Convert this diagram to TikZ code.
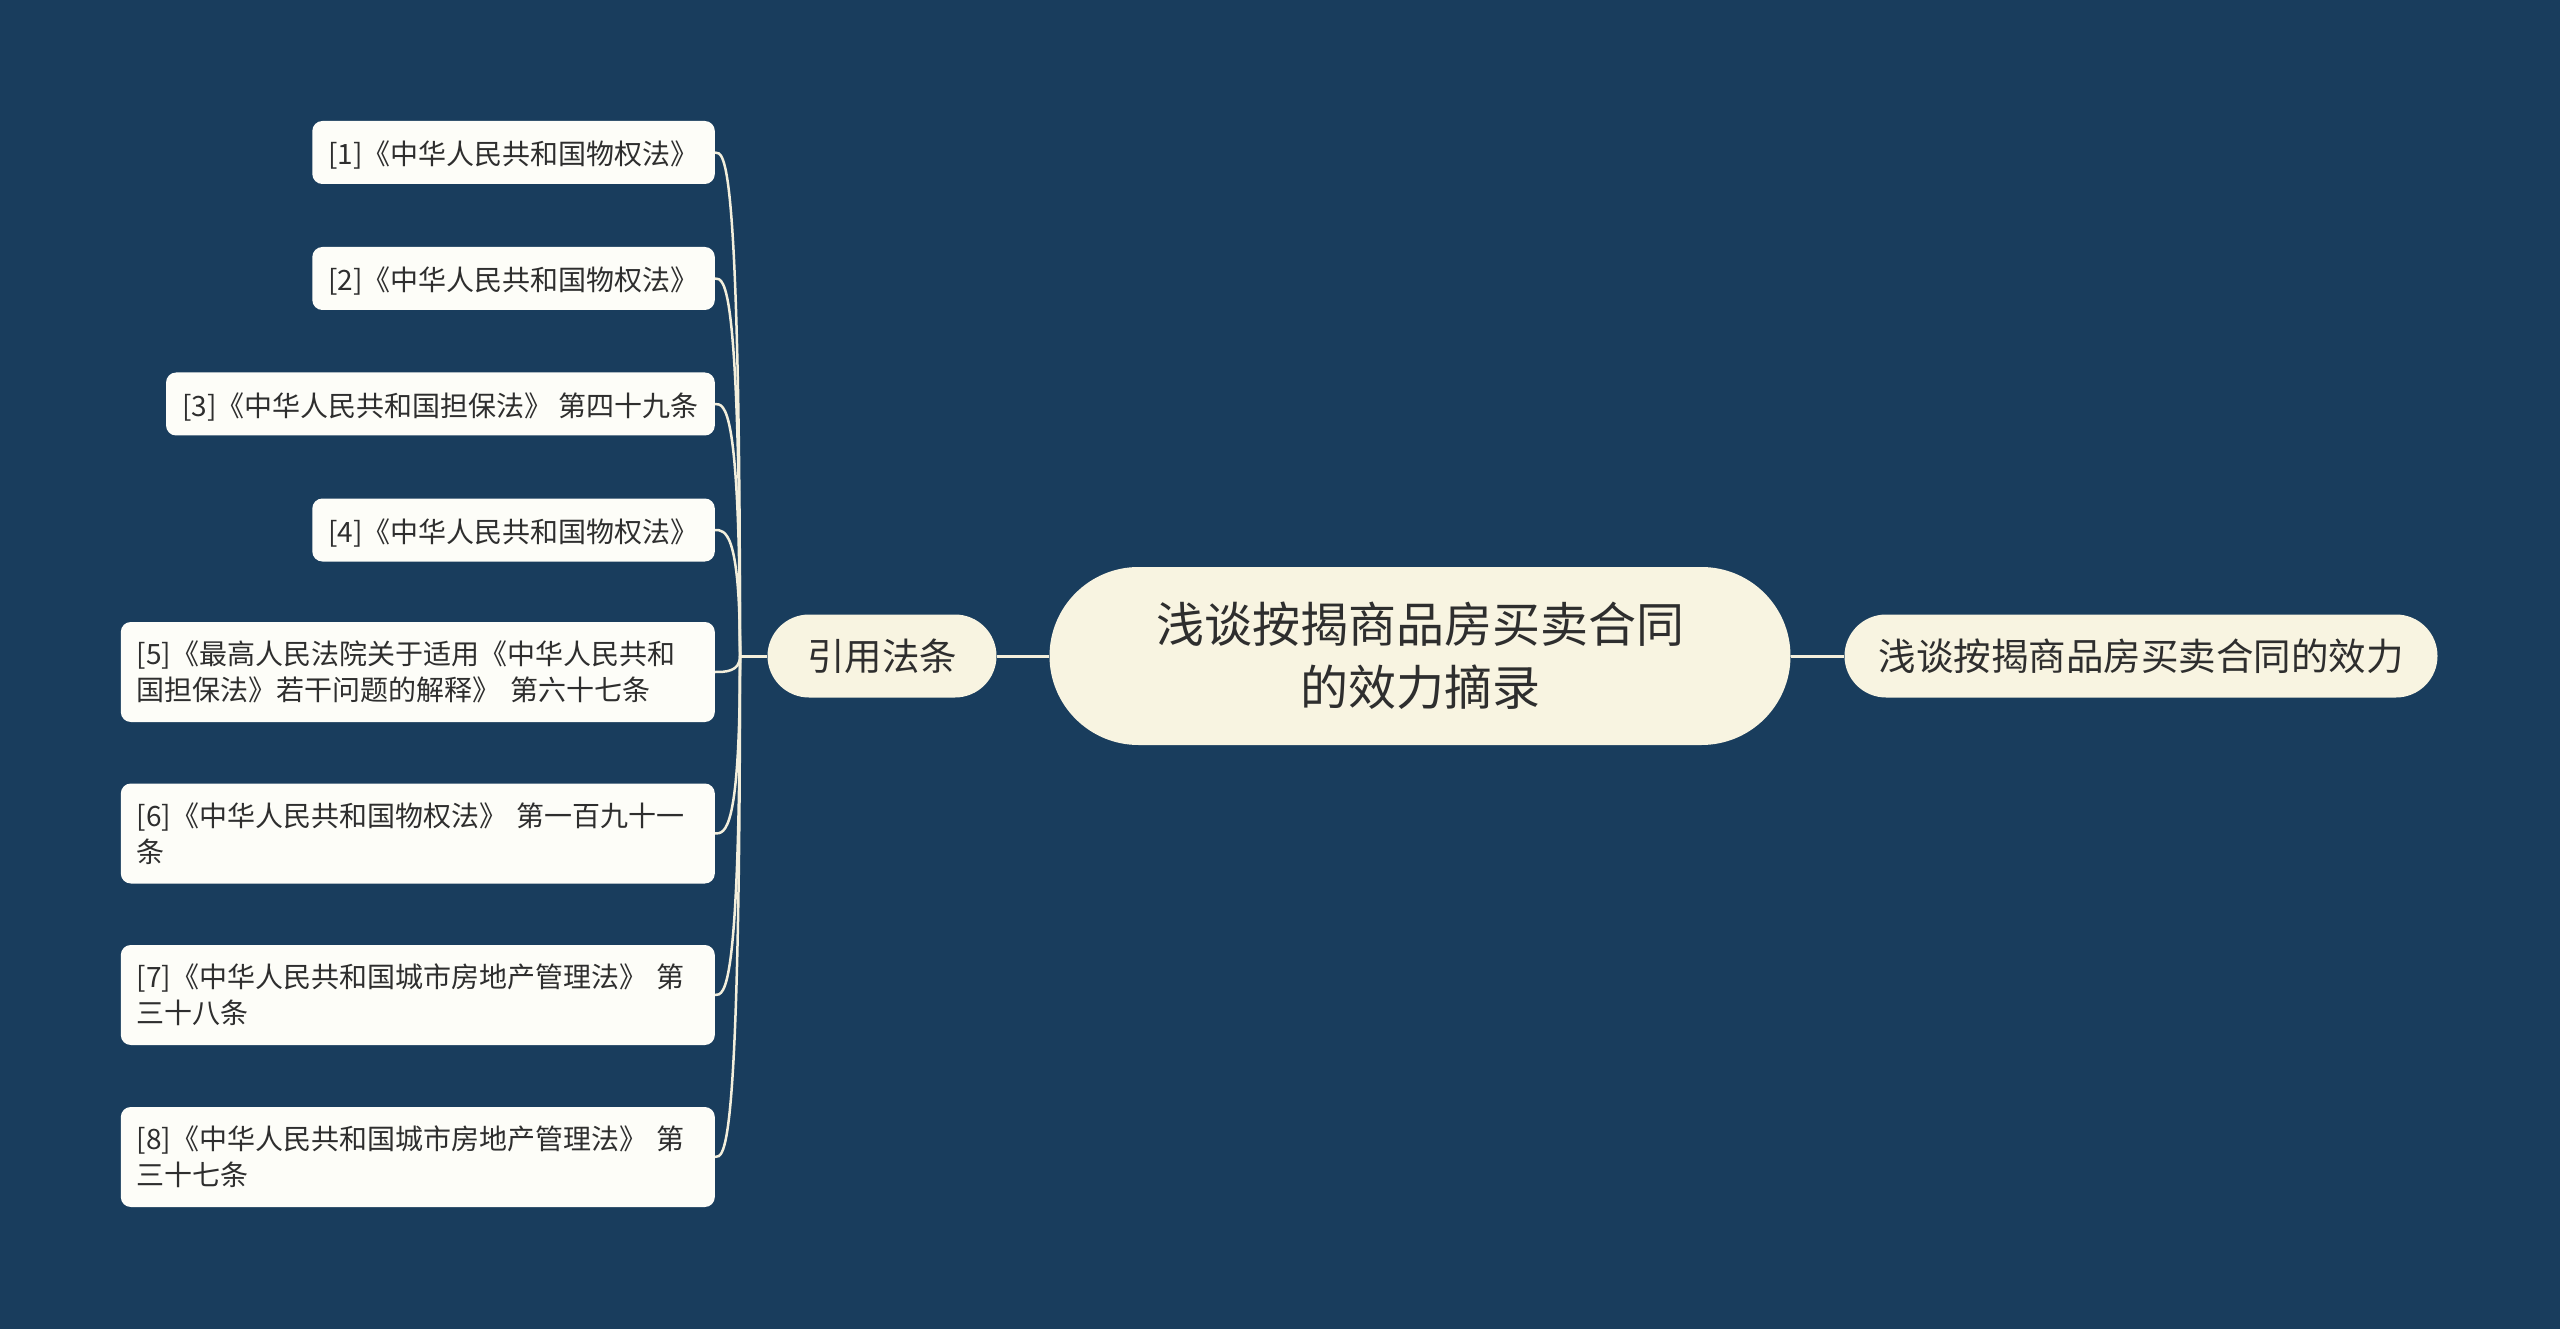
\documentclass[tikz,border=0pt]{standalone}
\usepackage{fontspec}
\setmainfont{Noto Sans CJK SC}
\usetikzlibrary{calc}
\definecolor{bg}{HTML}{193D5D}
\definecolor{cream}{HTML}{F8F4E1}
\definecolor{leafc}{HTML}{FDFDF8}
\definecolor{linec}{HTML}{F3EFDC}
\definecolor{txt}{HTML}{2E2E2E}
\begin{document}
\begin{tikzpicture}[x=1pt,y=-1pt,
  central/.style={fill=cream, text=txt, rounded corners=89pt, minimum width=741pt, minimum height=178pt, align=center, font=\fontsize{48}{63}\selectfont, inner sep=0pt},
  sub/.style={fill=cream, text=txt, rounded corners=41.5pt, minimum height=83pt, inner sep=0pt, font=\fontsize{37.5}{45}\selectfont},
  leafbase/.style={fill=leafc, text=txt, rounded corners=10pt, inner xsep=16pt, inner ysep=0pt, font=\fontsize{28}{36}\selectfont, anchor=east},
  leaf/.style={leafbase, minimum height=63pt, text height=27pt, text depth=2pt},
  leafw/.style={leafbase, text width=562pt, align=left, minimum height=100pt},
  conn/.style={draw=linec, line width=3pt},
  branch/.style={draw=linec, line width=2.5pt}]
\useasboundingbox (0,0) rectangle (2560,1329);
\fill[bg] (0,0) rectangle (2560,1329);

\node[central] (c) at (1420,656) {浅谈按揭商品房买卖合同\\的效力摘录};
\node[sub, minimum width=229pt] (s1) at (882,656) {引用法条};
\node[sub, minimum width=593pt] (s2) at (2141,656) {浅谈按揭商品房买卖合同的效力};

\node[leaf] (l1) at (715,152.5) {[1]《中华人民共和国物权法》};
\node[leaf] (l2) at (715,278.5) {[2]《中华人民共和国物权法》};
\node[leaf] (l3) at (715,404) {[3]《中华人民共和国担保法》 第四十九条};
\node[leaf] (l4) at (715,530) {[4]《中华人民共和国物权法》};
\node[leafw] (l5) at (715,672) {[5]《最高人民法院关于适用《中华人民共和\\国担保法》若干问题的解释》 第六十七条};
\node[leafw] (l6) at (715,833.5) {[6]《中华人民共和国物权法》 第一百九十一\\条};
\node[leafw] (l7) at (715,995) {[7]《中华人民共和国城市房地产管理法》 第\\三十八条};
\node[leafw] (l8) at (715,1157) {[8]《中华人民共和国城市房地产管理法》 第\\三十七条};

\draw[conn] (c.west) -- (s1.east);
\draw[conn] (c.east) -- (s2.west);
\coordinate (j) at (740,656);
\draw[conn] (s1.west) -- (j);
\foreach \l in {l1,l2,l3,l4,l5,l6,l7,l8}{
  \draw[branch] (j) .. controls (j |- \l.east) and ($(\l.east)+(10,0)$) .. (\l.east);
}
\end{tikzpicture}
\end{document}
